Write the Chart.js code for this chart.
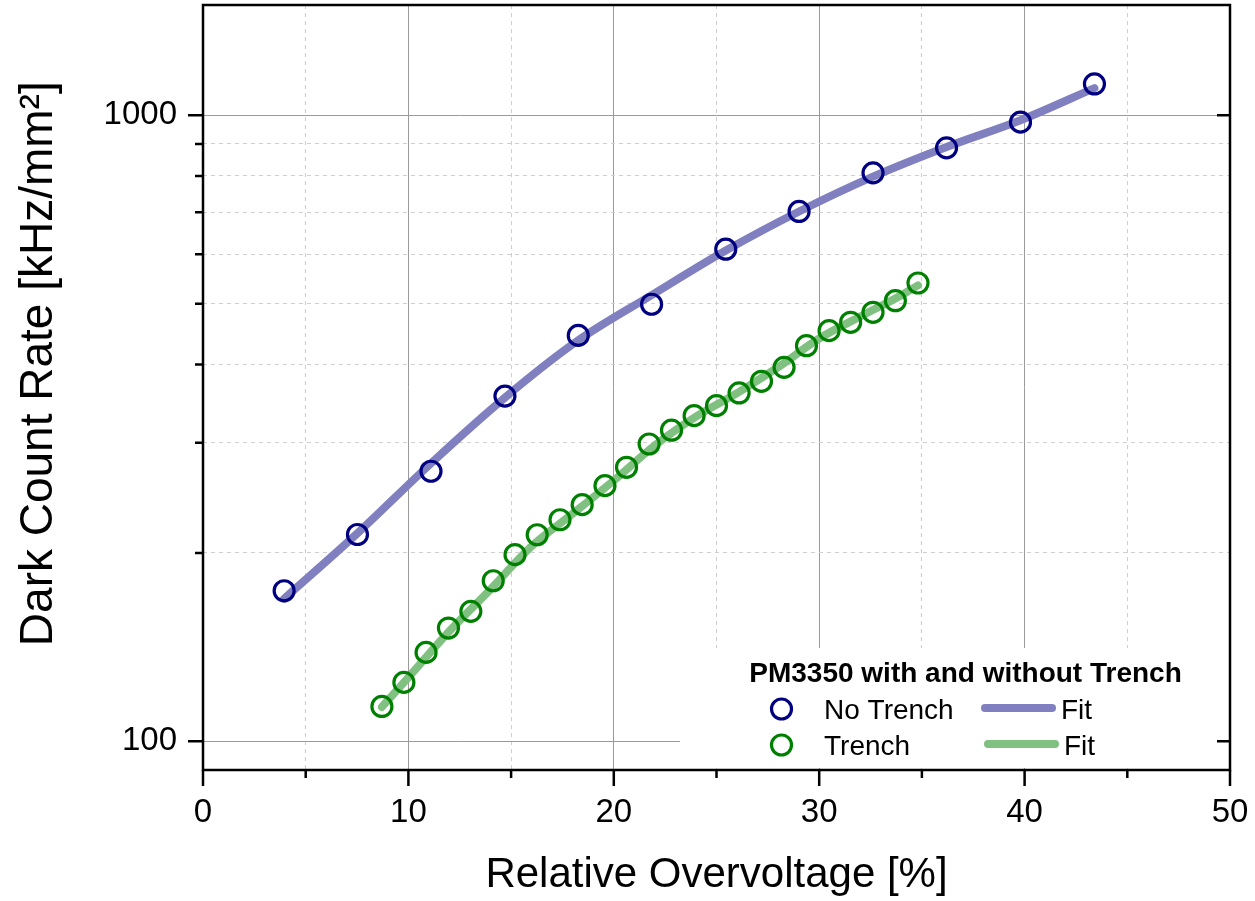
<!DOCTYPE html>
<html>
<head>
<meta charset="utf-8">
<script src="https://cdn.jsdelivr.net/npm/chart.js@4.4.1/dist/chart.umd.min.js"></script>
<style>
  html, body { margin: 0; padding: 0; background: #fff; }
  #wrap { width: 1255px; height: 901px; }
</style>
</head>
<body>
<div id="wrap"><canvas id="dcrChart" width="1255" height="901"></canvas></div>
<script>
// measured points, no trench
const noTrenchX = [3.95, 7.52, 11.10, 14.70, 18.27, 21.84, 25.45, 29.02, 32.62, 36.20, 39.80, 43.40];
const noTrenchY = [174, 214, 270, 356, 445, 499, 611, 702, 809, 887, 975, 1122];
// fit curve, no trench
const noTrenchFitX = [3.95, 7.52, 11.10, 14.70, 18.27, 21.84, 25.45, 29.02, 32.62, 36.20, 39.80, 43.40];
const noTrenchFitY = [169, 215, 278, 354, 437, 516, 608, 702, 798, 890, 982, 1105];

// measured points, trench
const trenchX = [8.71, 9.78, 10.86, 11.95, 13.04, 14.13, 15.19, 16.27, 17.38, 18.46, 19.57, 20.62, 21.72,
                 22.81, 23.91, 25.00, 26.10, 27.19, 28.29, 29.38, 30.48, 31.53, 32.62, 33.71, 34.81];
const trenchY = [113.7, 124.2, 138.7, 151.7, 161.3, 180.5, 198.7, 213.8, 225.9, 238.8, 256.1, 274.0, 298.5,
                 314.0, 331.3, 343.7, 360.1, 375.9, 395.7, 428.5, 452.9, 467.0, 484.5, 505.6, 539.6];
// fit curve, trench
const trenchFitX = [8.71, 10, 12, 14, 16, 18, 20, 22, 24, 26, 28, 30, 32, 34, 34.81];
const trenchFitY = [113.5, 126.5, 150, 175, 205, 231, 261, 297, 330, 360, 396, 440, 477, 516, 535];

const xTicks = [0, 5, 10, 15, 20, 25, 30, 35, 40, 45, 50];
const yTicks = [100, 200, 300, 400, 500, 600, 700, 800, 900, 1000];
const legendTitle = "PM3350 with and without Trench";

const FONT = '"Liberation Sans", Arial, sans-serif';
const MAJOR_GRID = "#9a9a9a";
const MINOR_GRID = "#cfcfcf";

function pairs(xs, ys) {
  return xs.map((x, i) => ({ x: x, y: ys[i] }));
}

const isMajorX = (v) => v % 10 === 0;
const isMajorY = (v) => v === 100 || v === 1000;

// legend in the lower right corner, drawn from the datasets' own styles
const legendBox = {
  id: "legendBox",
  beforeDatasetsDraw(chart) {
    const { ctx, chartArea: ca } = chart;
    const ds = chart.data.datasets;
    ctx.save();
    ctx.fillStyle = "#fff";
    ctx.fillRect(ca.right - 550, ca.bottom - 122, 548, 120);

    ctx.fillStyle = "#000";
    ctx.textBaseline = "alphabetic";
    ctx.textAlign = "center";
    ctx.font = "bold 28px " + FONT;
    ctx.fillText(legendTitle, ca.right - 264.5, ca.bottom - 88);

    const rows = [
      { pts: ds[0], fit: ds[1], cy: ca.bottom - 61, base: ca.bottom - 51.5, lx: ca.right - 245, fx: ca.right - 169 },
      { pts: ds[2], fit: ds[3], cy: ca.bottom - 25, base: ca.bottom - 15, lx: ca.right - 242, fx: ca.right - 166 },
    ];
    ctx.textAlign = "left";
    ctx.font = "28px " + FONT;
    rows.forEach((r) => {
      ctx.beginPath();
      ctx.arc(ca.right - 448.5, r.cy, r.pts.pointRadius, 0, Math.PI * 2);
      ctx.lineWidth = r.pts.pointBorderWidth;
      ctx.strokeStyle = r.pts.borderColor;
      ctx.stroke();
      ctx.fillStyle = "#000";
      ctx.fillText(r.pts.label, ca.right - 406, r.base);

      ctx.beginPath();
      ctx.moveTo(r.lx, r.cy - 1);
      ctx.lineTo(r.lx + 67, r.cy - 1);
      ctx.lineWidth = r.fit.borderWidth;
      ctx.lineCap = "round";
      ctx.strokeStyle = r.fit.borderColor;
      ctx.stroke();
      ctx.fillText(r.fit.label, r.fx, r.base);
    });
    ctx.restore();
  },
};

// box frame and tick marks (long for major, short for minor)
const frameTicks = {
  id: "frameTicks",
  afterDraw(chart) {
    const { ctx, chartArea: ca } = chart;
    const xs = chart.scales.x;
    const ys = chart.scales.y;
    ctx.save();
    ctx.strokeStyle = "#000";
    ctx.lineWidth = 2.5;
    ctx.lineCap = "butt";
    ctx.strokeRect(ca.left, ca.top, ca.right - ca.left, ca.bottom - ca.top);
    ctx.beginPath();
    xTicks.forEach((v) => {
      const px = xs.getPixelForValue(v);
      const len = isMajorX(v) ? 16 : 8;
      ctx.moveTo(px, ca.bottom);
      ctx.lineTo(px, ca.bottom + len);
    });
    yTicks.forEach((v) => {
      const py = ys.getPixelForValue(v);
      const len = isMajorY(v) ? 15 : 8;
      ctx.moveTo(ca.left - len, py);
      ctx.lineTo(ca.left, py);
      if (isMajorY(v)) {
        ctx.moveTo(ca.right - 13, py);
        ctx.lineTo(ca.right, py);
      }
    });
    ctx.stroke();
    ctx.restore();
  },
};

const ctx = document.getElementById("dcrChart").getContext("2d");

const dcrChart = new Chart(ctx, {
  type: "scatter",
  data: {
    datasets: [
      {
        label: "No Trench",
        data: pairs(noTrenchX, noTrenchY),
        showLine: false,
        pointStyle: "circle",
        pointRadius: 10,
        pointBorderWidth: 3.2,
        borderColor: "#000080",
        backgroundColor: "rgba(0,0,0,0)",
        order: 1,
      },
      {
        label: "Fit",
        data: pairs(noTrenchFitX, noTrenchFitY),
        showLine: true,
        pointRadius: 0,
        borderWidth: 8,
        borderColor: "#8080c0",
        borderCapStyle: "round",
        cubicInterpolationMode: "monotone",
        order: 3,
      },
      {
        label: "Trench",
        data: pairs(trenchX, trenchY),
        showLine: false,
        pointStyle: "circle",
        pointRadius: 10,
        pointBorderWidth: 3.2,
        borderColor: "#008000",
        backgroundColor: "rgba(0,0,0,0)",
        order: 2,
      },
      {
        label: "Fit",
        data: pairs(trenchFitX, trenchFitY),
        showLine: true,
        pointRadius: 0,
        borderWidth: 8,
        borderColor: "#80c080",
        borderCapStyle: "round",
        cubicInterpolationMode: "monotone",
        order: 4,
      },
    ],
  },
  options: {
    responsive: false,
    devicePixelRatio: 1,
    animation: false,
    layout: {
      autoPadding: false,
      padding: { left: 0, right: 25, top: 5, bottom: 0 },
    },
    plugins: {
      legend: { display: false },
      tooltip: { enabled: false },
    },
    scales: {
      x: {
        type: "linear",
        min: 0,
        max: 50,
        afterBuildTicks: (scale) => {
          scale.ticks = xTicks.map((v) => ({ value: v }));
        },
        afterFit: (scale) => {
          scale.height = 131;
          scale.paddingLeft = 0;
          scale.paddingRight = 0;
        },
        ticks: {
          color: "#000",
          font: { family: FONT, size: 33 },
          padding: 23,
          maxRotation: 0,
          autoSkip: false,
          callback: (v) => (isMajorX(v) ? String(v) : ""),
        },
        grid: {
          drawTicks: false,
          lineWidth: 1,
          color: (c) => {
            if (!c.tick || c.tick.value === 0 || c.tick.value === 50) return "rgba(0,0,0,0)";
            return isMajorX(c.tick.value) ? MAJOR_GRID : MINOR_GRID;
          },
        },
        border: {
          display: false,
          dash: (c) => (c.tick && !isMajorX(c.tick.value) ? [4, 4] : []),
        },
        title: {
          display: true,
          text: "Relative Overvoltage [%]",
          color: "#000",
          font: { family: FONT, size: 42 },
          padding: { top: 0, bottom: 0 },
        },
      },
      y: {
        type: "logarithmic",
        min: 90,
        max: 1500,
        afterBuildTicks: (scale) => {
          scale.ticks = yTicks.map((v) => ({ value: v }));
        },
        afterFit: (scale) => {
          scale.width = 203;
          scale.paddingTop = 0;
          scale.paddingBottom = 0;
        },
        ticks: {
          color: "#000",
          font: { family: FONT, size: 33 },
          padding: 26,
          autoSkip: false,
          callback: (v) => (isMajorY(v) ? String(v) : ""),
        },
        grid: {
          drawTicks: false,
          lineWidth: 1,
          color: (c) => {
            if (!c.tick) return "rgba(0,0,0,0)";
            return isMajorY(c.tick.value) ? MAJOR_GRID : MINOR_GRID;
          },
        },
        border: {
          display: false,
          dash: (c) => (c.tick && !isMajorY(c.tick.value) ? [4, 4] : []),
        },
        title: {
          display: true,
          text: "   \u2009Dark Count Rate [kHz/mm²]",
          color: "#000",
          font: { family: FONT, size: 46 },
          padding: { top: 12, bottom: 0 },
        },
      },
    },
  },
  plugins: [legendBox, frameTicks],
});
</script>
</body>
</html>
